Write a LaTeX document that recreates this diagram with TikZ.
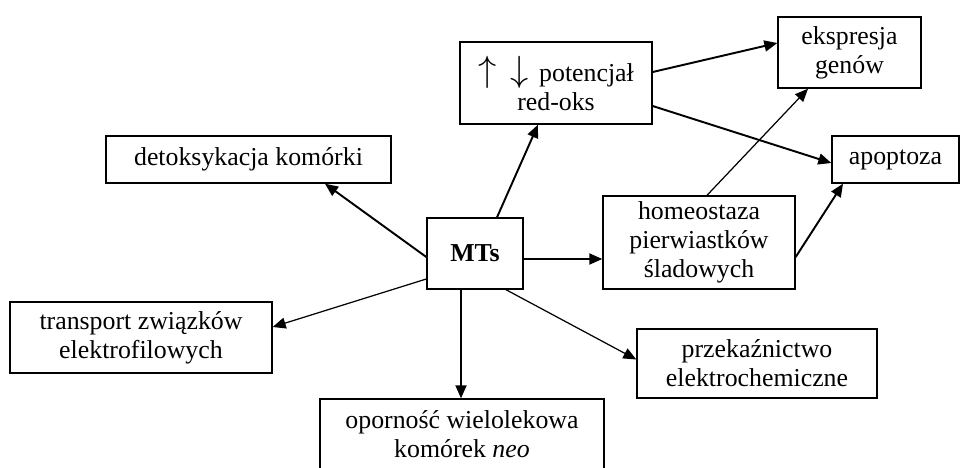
\documentclass[tikz,border=0pt]{standalone}
\usepackage{fontspec}
\setmainfont{Liberation Serif}
\usepackage{tikz}
\usetikzlibrary{
    arrows.meta,
    calc
}

\tikzset{
    box/.style={draw, line width=0.8pt, align=center, inner sep=2pt,
        font=\fontsize{14.7}{16.5}\selectfont},
    arr/.style={line width=1.1pt, -{Triangle[length=2.6mm,width=2.2mm]}},
    thinarr/.style={arr, line width=0.7pt}
}
\newcommand{\bigarr}[1]{{\fontsize{21}{21}\selectfont$#1$}}

\begin{document}
\begin{tikzpicture}[x=0.02cm, y=-0.02cm]
\useasboundingbox (0,0) rectangle (963,467);
\clip (0,0) rectangle (963,467);

% Centre
\node[box, minimum width=1.92cm, minimum height=1.42cm] (mts) at (475,253.5) {\textbf{MTs}};

% Left and bottom
\node[box, minimum width=5.70cm, minimum height=0.94cm] (detox) at (248.5,159.5) {detoksykacja komórki};
\node[box, minimum width=5.24cm, minimum height=1.42cm] (transport) at (141,337.5) {transport związków\\elektrofilowych};
\node[box, minimum width=5.68cm, minimum height=1.42cm] (opor) at (462,434.5) {oporność wielolekowa\\komórek \textit{neo}};
\node[box, minimum width=4.80cm, minimum height=1.38cm] (przek) at (757,363.5) {przekaźnictwo\\elektrochemiczne};

% Right and top
\node[box, minimum width=3.84cm, minimum height=1.86cm] (homeo) at (699,242.5) {homeostaza\\pierwiastków\\śladowych};
\node[box, minimum width=3.84cm, minimum height=1.64cm] (pot) at (556,83) {\bigarr{\uparrow}\hspace{8pt}\bigarr{\downarrow}\hspace{6pt}potencjał\\red-oks};
\node[box, minimum width=2.86cm, minimum height=1.42cm] (ekspr) at (849.5,52.5) {ekspresja\\genów};
\node[box, minimum width=2.54cm, minimum height=0.94cm] (apop) at (895.5,159.5) {apoptoza};

% Arrows from MTs
\draw[arr] ($(mts.west)+(0,3.5)$) -- ($(detox.south)+(76.5,0)$);
\draw[thinarr] ($(mts.west)+(0,25.5)$) -- ($(transport.east)+(0,-10.5)$);
\draw[arr] ($(mts.south)+(-14,0)$) coordinate (m1) -- (m1 |- opor.north);
\draw[thinarr] ($(mts.south)+(31,0)$) -- ($(przek.west)+(0,-4)$);
\draw[arr] ($(mts.east)+(0,5.5)$) coordinate (m2) -- (m2 -| homeo.west);
\draw[arr] ($(mts.north)+(22,0)$) -- ($(pot.south)+(-18,0)$);

% Further effects
\draw[arr] ($(pot.east)+(0,-11)$) -- ($(ekspr.west)+(0,-9.5)$);
\draw[arr] ($(pot.east)+(0,23)$) -- ($(apop.west)+(0,3.5)$);
\draw[thinarr] ($(homeo.north)+(8,0)$) -- ($(ekspr.south)+(-41.5,0)$);
\draw[arr] ($(homeo.east)+(0,14.5)$) -- ($(apop.south)+(-52.5,0)$);
\end{tikzpicture}
\end{document}
